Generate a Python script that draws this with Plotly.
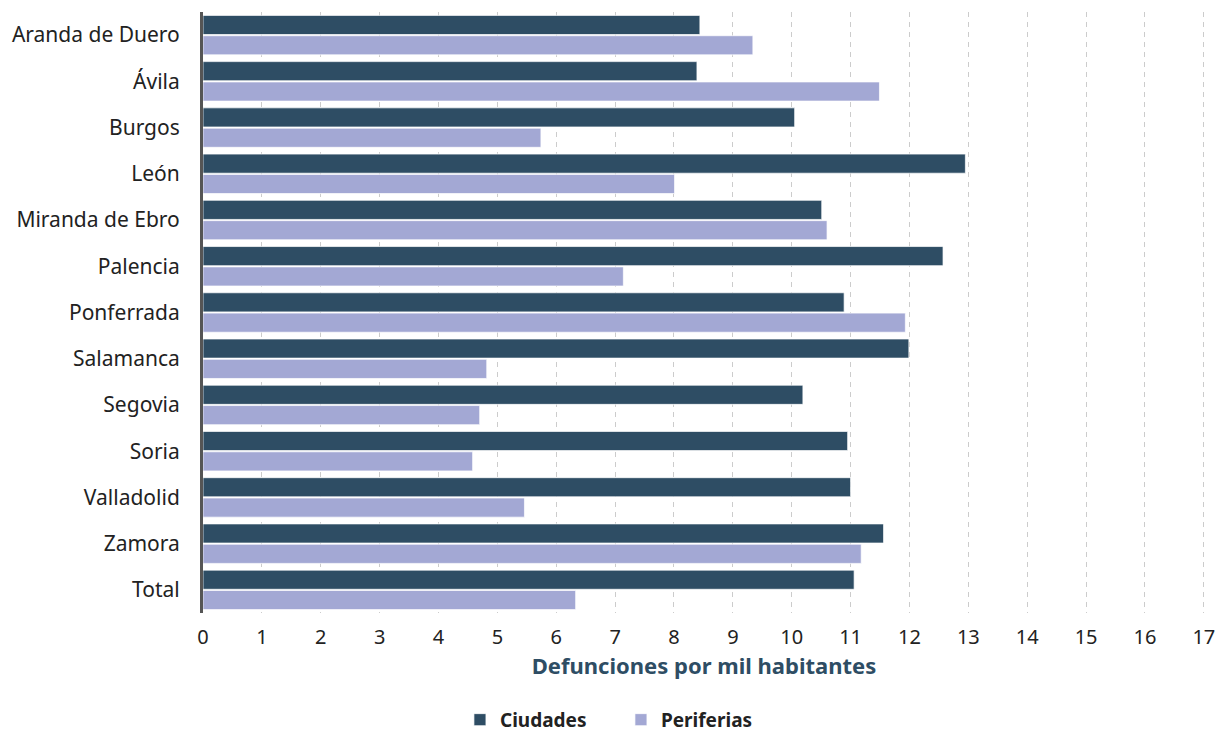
import plotly.graph_objects as go

# datos: defunciones por mil habitantes
ciudades_nombres = ['Aranda de Duero', 'Ávila', 'Burgos', 'León', 'Miranda de Ebro', 'Palencia',
                    'Ponferrada', 'Salamanca', 'Segovia', 'Soria', 'Valladolid', 'Zamora', 'Total']
ciudades = [8.44, 8.39, 10.05, 12.95, 10.51, 12.57, 10.89, 11.99, 10.19, 10.95, 11.00, 11.56, 11.06]
periferias = [9.34, 11.49, 5.74, 8.01, 10.60, 7.14, 11.93, 4.82, 4.70, 4.58, 5.46, 11.18, 6.33]
ticks_x = list(range(0, 18))

azul = '#2e4d64'
lila = '#a3a8d4'
fuente = 'Noto Sans'

fig = go.Figure()
fig.add_trace(go.Bar(y=ciudades_nombres, x=ciudades, orientation='h', name='<b>Ciudades</b>',
                     marker=dict(color=azul, line=dict(color='rgba(255,255,255,0.7)', width=1))))
fig.add_trace(go.Bar(y=ciudades_nombres, x=periferias, orientation='h', name='<b>Periferias</b>',
                     marker=dict(color=lila, line=dict(color='rgba(255,255,255,0.7)', width=1))))

fig.update_layout(
    width=1220, height=733,
    margin=dict(l=203, r=15, t=12, b=120),
    paper_bgcolor='white', plot_bgcolor='white',
    barmode='group', bargap=0.12, bargroupgap=0.06,
    font=dict(family=fuente, size=20, color='#222222'),
    xaxis=dict(range=[0, 17.02], tickvals=ticks_x, showgrid=True, gridcolor='#cccccc',
               griddash='5px,5px', gridwidth=1, zeroline=False, ticks='', automargin=False,
               ticklabelstandoff=10, ticklabeloverflow='allow',
               tickfont=dict(size=20, color='#222222'),
               title=dict(text='<b>Defunciones por mil habitantes</b>', standoff=6,
                          font=dict(size=22, color=azul))),
    yaxis=dict(autorange='reversed', showline=True, linecolor='#555555', linewidth=3,
               ticks='', ticklabelstandoff=16, automargin=False,
               tickfont=dict(size=21, color='#222222')),
    legend=dict(orientation='h', xref='container', yref='container', x=0.377, y=0.018,
                xanchor='left', yanchor='middle', entrywidth=116,
                font=dict(size=19, color='#222222'), itemwidth=30, traceorder='normal'),
)

# quitar el margen del body para que la figura ocupe toda la ventana
fig.write_html("out.html", config={'displayModeBar': False},
               post_script="document.body.style.margin='0';")
